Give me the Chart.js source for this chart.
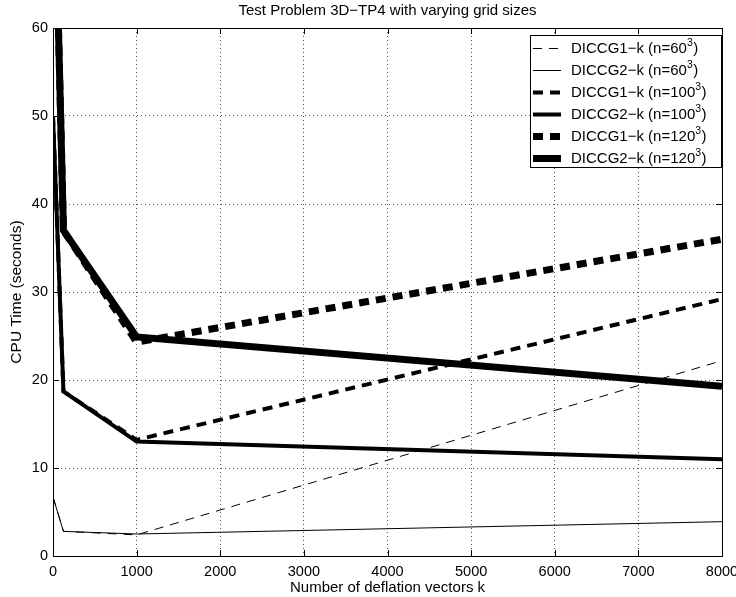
<!DOCTYPE html>
<html>
<head>
<meta charset="utf-8">
<script src="https://cdn.jsdelivr.net/npm/chart.js@4"></script>
<style>
 html, body { margin: 0; padding: 0; background: #fff; }
 #wrap { width: 736px; height: 597px; }
</style>
</head>
<body>
<div id="wrap"><canvas id="cpu-chart" width="736" height="597"></canvas></div>
<script>
// number of deflation vectors k
const kValues = [0, 125, 1000, 8000];

// CPU time (seconds)
const diccg1_60  = [6.7, 2.8, 2.4, 22.2];
const diccg2_60  = [6.7, 2.8, 2.5, 3.9];
const diccg1_100 = [50, 18.7, 13.2, 29.2];
const diccg2_100 = [50, 18.7, 13.0, 11.0];
const diccg1_120 = [85, 37.0, 24.3, 36.0];
const diccg2_120 = [85, 37.0, 24.9, 19.3];

const seriesNames = ['DICCG1\u2212k (n=60', 'DICCG2\u2212k (n=60', 'DICCG1\u2212k (n=100',
                     'DICCG2\u2212k (n=100', 'DICCG1\u2212k (n=120', 'DICCG2\u2212k (n=120'];

const xTicks = [0, 1000, 2000, 3000, 4000, 5000, 6000, 7000, 8000];
const yTicks = [0, 10, 20, 30, 40, 50, 60];

const FONT = '"Liberation Sans", Arial, Helvetica, sans-serif';

function pts(vals){
  return kValues.map((k, i) => ({x: k, y: vals[i]}));
}

// line styles (width, dash) per series
const styles = [
  {w: 1, dash: [9, 7]},
  {w: 1, dash: []},
  {w: 4, dash: [10, 7]},
  {w: 4, dash: []},
  {w: 7, dash: [10, 7]},
  {w: 7, dash: []}
];

const allData = [diccg1_60, diccg2_60, diccg1_100, diccg2_100, diccg1_120, diccg2_120];

const datasets = allData.map((vals, i) => ({
  label: seriesNames[i] + '^3)',
  data: pts(vals),
  borderColor: '#000',
  borderWidth: styles[i].w,
  borderDash: styles[i].dash,
  borderCapStyle: 'butt',
  borderJoinStyle: 'miter',
  pointRadius: 0,
  tension: 0,
  fill: false
}));

// frame, inward ticks and legend drawn like the matlab figure
const matlabFrame = {
  id: 'matlabFrame',
  afterDatasetsDraw(chart){
    const ctx = chart.ctx;
    const a = chart.chartArea;
    const xs = chart.scales.x, ys = chart.scales.y;
    ctx.save();
    ctx.strokeStyle = '#000';
    ctx.lineWidth = 1;
    ctx.setLineDash([]);
    ctx.beginPath();
    xTicks.forEach(t => {
      const px = Math.round(xs.getPixelForValue(t)) + 0.5;
      ctx.moveTo(px, a.bottom); ctx.lineTo(px, a.bottom - 6);
      ctx.moveTo(px, a.top); ctx.lineTo(px, a.top + 6);
    });
    yTicks.forEach(t => {
      const py = Math.round(ys.getPixelForValue(t)) + 0.5;
      ctx.moveTo(a.left, py); ctx.lineTo(a.left + 6, py);
      ctx.moveTo(a.right, py); ctx.lineTo(a.right - 6, py);
    });
    ctx.stroke();
    ctx.strokeRect(Math.round(a.left) + 0.5, Math.round(a.top) + 0.5,
                   Math.round(a.right - a.left), Math.round(a.bottom - a.top));

    // legend
    const lx = 530, ly = 35, lw = 191, lh = 132;
    ctx.fillStyle = '#fff';
    ctx.fillRect(lx, ly, lw, lh);
    ctx.strokeRect(lx + 0.5, ly + 0.5, lw, lh);
    seriesNames.forEach((name, i) => {
      const y = 48 + i * 22;
      ctx.lineWidth = styles[i].w;
      ctx.setLineDash(styles[i].dash);
      ctx.lineCap = 'butt';
      ctx.beginPath();
      ctx.moveTo(533, y + 0.5);
      ctx.lineTo(561, y + 0.5);
      ctx.stroke();
      ctx.setLineDash([]);
      ctx.fillStyle = '#000';
      ctx.textBaseline = 'middle';
      ctx.textAlign = 'left';
      ctx.font = '15px ' + FONT;
      ctx.fillText(name, 571, y + 1);
      let w = ctx.measureText(name).width;
      ctx.font = '10.5px ' + FONT;
      ctx.fillText('3', 571 + w, y - 5);
      let w2 = ctx.measureText('3').width;
      ctx.font = '15px ' + FONT;
      ctx.fillText(')', 571 + w + w2 + 0.5, y + 1);
    });
    ctx.restore();
  }
};

new Chart(document.getElementById('cpu-chart'), {
  type: 'line',
  data: { datasets: datasets },
  options: {
    responsive: false,
    maintainAspectRatio: false,
    animation: false,
    layout: { padding: { left: 0, right: 14, top: 0, bottom: 0 }, autoPadding: false },
    plugins: {
      legend: { display: false },
      tooltip: { enabled: false },
      title: {
        display: true,
        fullSize: false,
        text: 'Test Problem 3D\u2212TP4 with varying grid sizes',
        color: '#000',
        font: { family: FONT, size: 15, weight: 'normal' },
        padding: { top: 2, bottom: 8 }
      }
    },
    scales: {
      x: {
        type: 'linear',
        min: 0, max: 8000,
        afterFit: s => { s.height = 41; s.paddingLeft = 0; s.paddingRight = 0; },
        afterBuildTicks: s => { s.ticks = xTicks.map(v => ({value: v})); },
        ticks: { color: '#000', font: { family: FONT, size: 14.5 }, padding: 7, maxRotation: 0,
                 callback: v => String(v) },
        grid: { color: '#555', lineWidth: 1, drawTicks: false, borderDash: [1, 3] },
        border: { display: false, dash: [1, 3] },
        title: { display: true, text: 'Number of deflation vectors k', color: '#000',
                 font: { family: FONT, size: 15 }, padding: { top: 0, bottom: 0 } }
      },
      y: {
        type: 'linear',
        min: 0, max: 60,
        afterFit: s => { s.width = 53; s.paddingTop = 0; s.paddingBottom = 0; },
        afterBuildTicks: s => { s.ticks = yTicks.map(v => ({value: v})); },
        ticks: { color: '#000', font: { family: FONT, size: 14.5 }, padding: 5,
                 callback: v => String(v) },
        grid: { color: '#555', lineWidth: 1, drawTicks: false, borderDash: [1, 3] },
        border: { display: false, dash: [1, 3] },
        title: { display: true, text: 'CPU Time (seconds)', color: '#000',
                 font: { family: FONT, size: 15.5 }, padding: { top: 7, bottom: 4 } }
      }
    }
  },
  plugins: [matlabFrame]
});
</script>
</body>
</html>
